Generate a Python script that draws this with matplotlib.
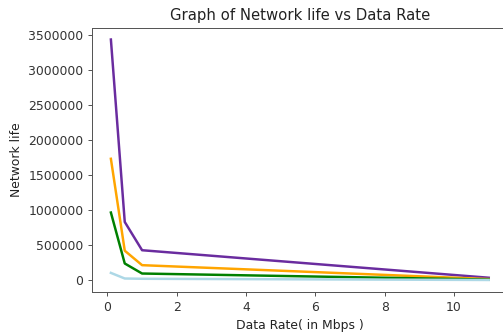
import matplotlib
matplotlib.use("Agg")
import matplotlib.pyplot as plt

data_rate = [0.1, 0.5, 1, 11]
life_purple = [3430000, 830000, 427000, 35000]
life_orange = [1730000, 420000, 214000, 16000]
life_green = [964000, 238000, 95000, 9000]
life_blue = [104000, 24000, 20000, 3000]

DPI = 89
fig = plt.figure(figsize=(504/DPI, 334/DPI), dpi=DPI)
ax = fig.add_axes([92/504, 42/334, (507.6-92)/504, (292-27.5)/334])
lw = 2.0
ax.plot(data_rate, life_purple, color="#6a2c9f", lw=lw)
ax.plot(data_rate, life_orange, color="orange", lw=lw)
ax.plot(data_rate, life_green, color="green", lw=lw)
ax.plot(data_rate, life_blue, color="lightblue", lw=lw)
ax.ticklabel_format(style="plain", axis="y")
for s in ax.spines.values():
    s.set_color("#555555")
ax.tick_params(colors="#555555", labelcolor="#333333")
ax.set_title("Graph of Network life vs Data Rate", color="#222222")
ax.set_xlabel("Data Rate( in Mbps )", color="#222222")
ax.set_ylabel("Network life", color="#222222")
fig.savefig("out.png", dpi=DPI)
